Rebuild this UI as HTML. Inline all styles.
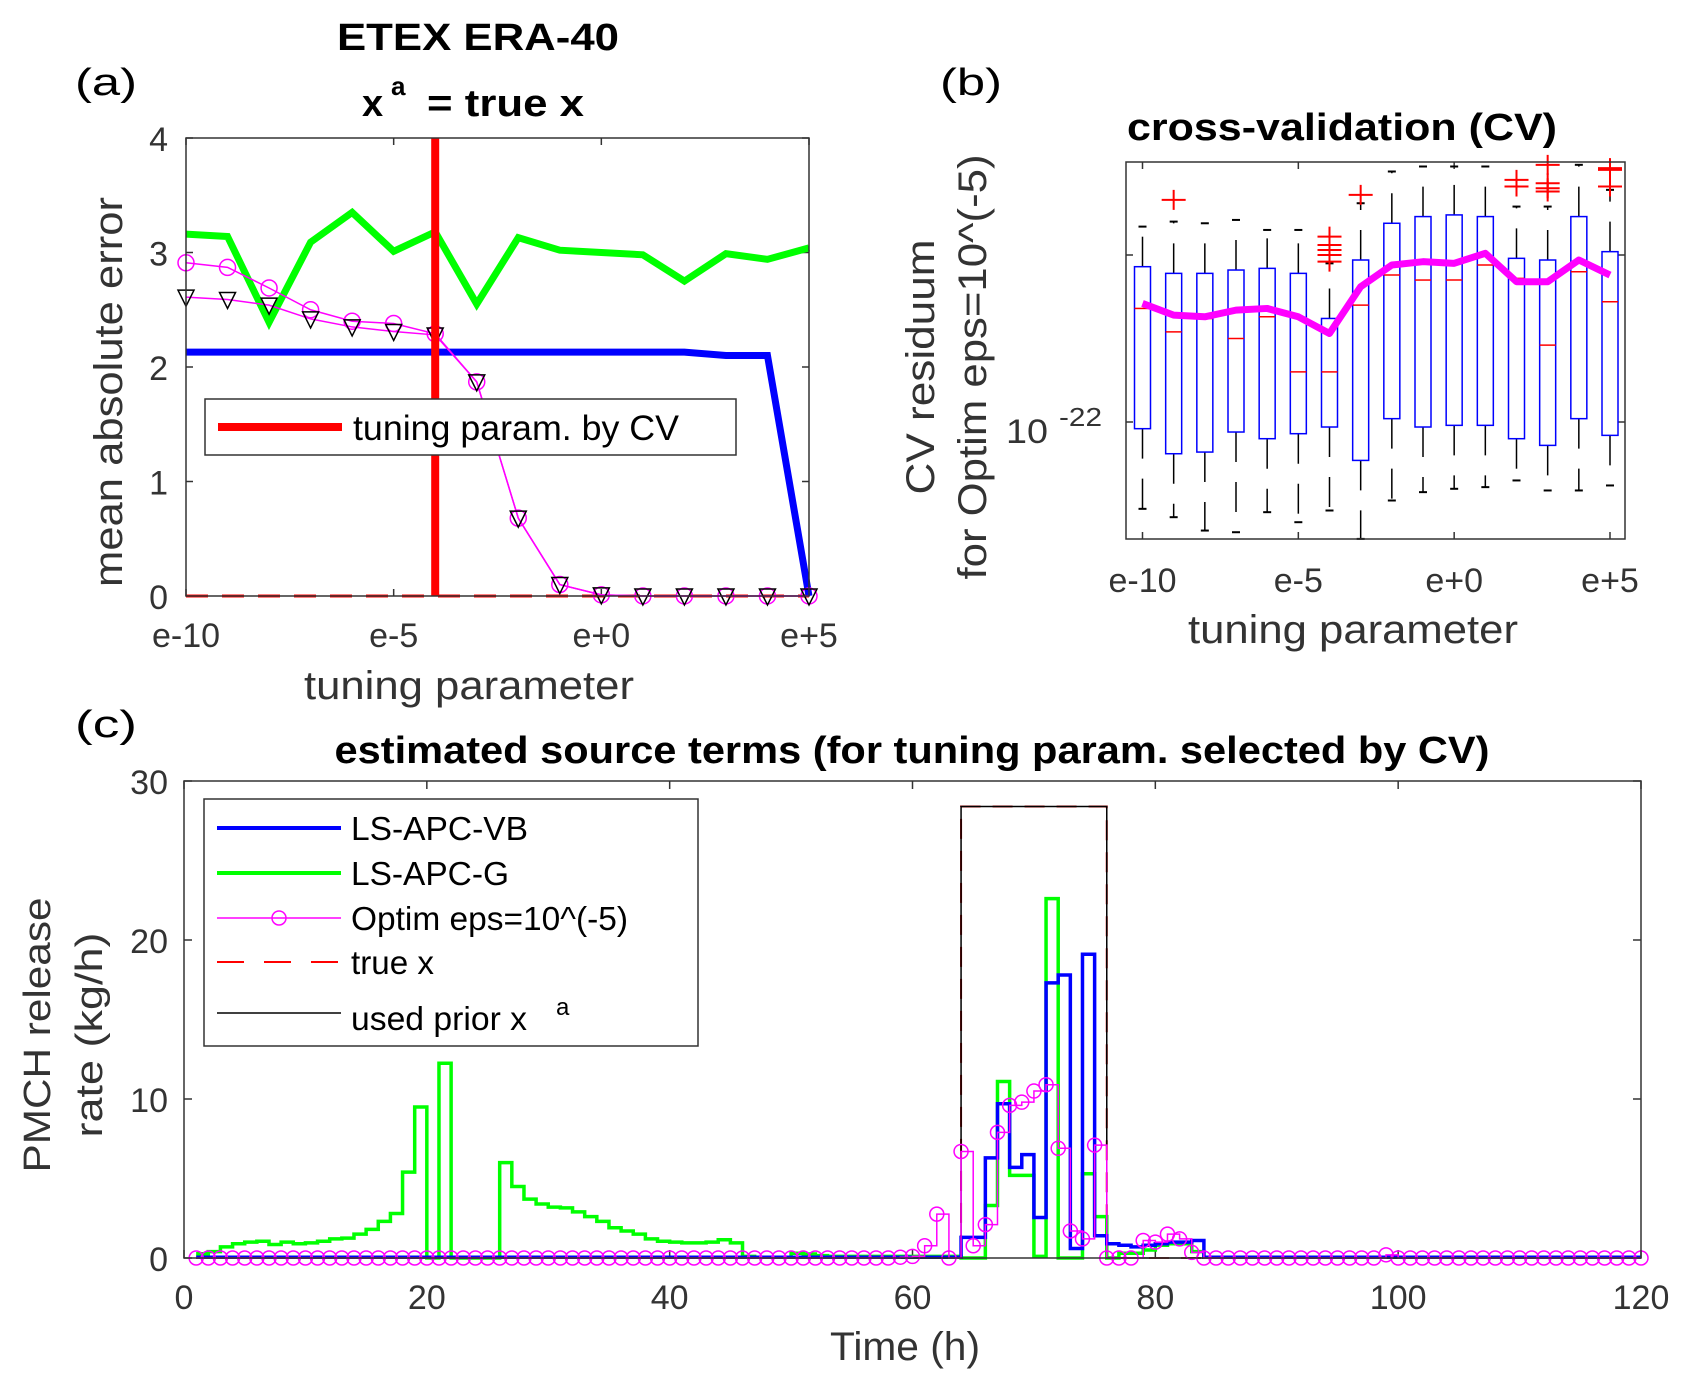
<!DOCTYPE html>
<html><head><meta charset="utf-8"><style>
body{margin:0;background:#fff}
svg{display:block}
text{font-family:"Liberation Sans",sans-serif}
</style></head><body>
<svg id="fig" width="1681" height="1387" viewBox="0 0 1681 1387" xmlns="http://www.w3.org/2000/svg">
<rect width="1681" height="1387" fill="#fff"/>
<g id="pa"></g>
<g id="pb"></g>
<g id="pc"></g>

<text x="75" y="95" font-size="38" fill="#000" textLength="62" lengthAdjust="spacingAndGlyphs">(a)</text>
<text x="940" y="95" font-size="38" fill="#000" textLength="62" lengthAdjust="spacingAndGlyphs">(b)</text>
<text x="75" y="737" font-size="38" fill="#000" textLength="62" lengthAdjust="spacingAndGlyphs">(c)</text>
<text x="478" y="50" font-size="38" font-weight="bold" text-anchor="middle" textLength="282" lengthAdjust="spacingAndGlyphs">ETEX ERA-40</text>
<text x="362" y="116" font-size="38" font-weight="bold">x</text>
<text x="391" y="95" font-size="26" font-weight="bold">a</text>
<text x="427" y="116" font-size="38" font-weight="bold" textLength="157" lengthAdjust="spacingAndGlyphs">= true x</text>
<text x="1342" y="140" font-size="38" font-weight="bold" text-anchor="middle" textLength="430" lengthAdjust="spacingAndGlyphs">cross-validation (CV)</text>
<text x="912" y="763" font-size="38" font-weight="bold" text-anchor="middle" textLength="1155" lengthAdjust="spacingAndGlyphs">estimated source terms (for tuning param. selected by CV)</text>
<text transform="translate(122,392) rotate(-90)" font-size="40" fill="#333" text-anchor="middle" textLength="390" lengthAdjust="spacingAndGlyphs">mean absolute error</text>
<text x="469" y="699" font-size="40" fill="#333" text-anchor="middle" textLength="330" lengthAdjust="spacingAndGlyphs">tuning parameter</text>
<text transform="translate(934,367) rotate(-90)" font-size="40" fill="#333" text-anchor="middle" textLength="255" lengthAdjust="spacingAndGlyphs">CV residuum</text>
<text transform="translate(986,367) rotate(-90)" font-size="40" fill="#333" text-anchor="middle" textLength="425" lengthAdjust="spacingAndGlyphs">for Optim eps=10^(-5)</text>
<text x="1353" y="643" font-size="40" fill="#333" text-anchor="middle" textLength="330" lengthAdjust="spacingAndGlyphs">tuning parameter</text>
<text x="1006" y="443" font-size="34" fill="#333" textLength="42" lengthAdjust="spacingAndGlyphs">10</text>
<text x="1059" y="426" font-size="26" fill="#333" textLength="43" lengthAdjust="spacingAndGlyphs">-22</text>
<text transform="translate(50,1035) rotate(-90)" font-size="38" fill="#333" text-anchor="middle" textLength="275" lengthAdjust="spacingAndGlyphs">PMCH release</text>
<text transform="translate(102,1035) rotate(-90)" font-size="38" fill="#333" text-anchor="middle" textLength="205" lengthAdjust="spacingAndGlyphs">rate (kg/h)</text>
<text x="905" y="1360" font-size="40" fill="#333" text-anchor="middle" textLength="150" lengthAdjust="spacingAndGlyphs">Time (h)</text>
</svg>
<script>
const NS="http://www.w3.org/2000/svg";
// ---------- panel (a) data ----------
const aCats=["e-10","e-9","e-8","e-7","e-6","e-5","e-4","e-3","e-2","e-1","e+0","e+1","e+2","e+3","e+4","e+5"];
const aTickIdx=[0,5,10,15];
const aTickLabels=["e-10","e-5","e+0","e+5"];
const aYTicks=[0,1,2,3,4];
const aGreen=[3.16,3.14,2.39,3.09,3.35,3.01,3.18,2.55,3.13,3.02,3.00,2.98,2.75,2.99,2.94,3.04];
const aBlue=[2.13,2.13,2.13,2.13,2.13,2.13,2.13,2.13,2.13,2.13,2.13,2.13,2.13,2.10,2.10,0];
const aCircle=[2.91,2.87,2.69,2.50,2.40,2.38,2.29,1.87,0.68,0.10,0.01,0,0,0,0,0];
const aTri=[2.61,2.59,2.54,2.42,2.35,2.31,2.28,1.87,0.68,0.10,0.01,0,0,0,0,0];
const aTrue=[0,0,0,0,0,0,0,0,0,0,0,0,0,0,0,0];
const aSelected=6;
// ---------- panel (b) data (log10 of CV residuum) ----------
const bQ1=[-22.04,-22.19,-22.18,-22.06,-22.10,-22.07,-22.03,-22.23,-21.98,-22.03,-22.02,-22.02,-22.10,-22.14,-21.98,-22.08];
const bMed=[-21.32,-21.46,-21.38,-21.50,-21.37,-21.70,-21.70,-21.30,-21.12,-21.15,-21.15,-21.06,-21.14,-21.54,-21.10,-21.28];
const bQ3=[-21.07,-21.11,-21.11,-21.09,-21.08,-21.11,-21.38,-21.03,-20.81,-20.77,-20.76,-20.77,-21.02,-21.03,-20.77,-20.98];
const bWlo=[-22.52,-22.57,-22.65,-22.66,-22.54,-22.60,-22.53,-22.70,-22.47,-22.42,-22.40,-22.39,-22.35,-22.41,-22.41,-22.38];
const bWhi=[-20.83,-20.80,-20.81,-20.79,-20.85,-20.85,-21.05,-20.69,-20.50,-20.47,-20.47,-20.47,-20.71,-20.71,-20.46,-20.61];
const bMean=[-21.29,-21.36,-21.37,-21.33,-21.32,-21.37,-21.47,-21.19,-21.06,-21.04,-21.05,-20.99,-21.16,-21.16,-21.03,-21.12];
const bOutIdx=[1,6,6,6,6,6,7,12,12,13,13,13,13,15,15,15];
const bOutVal=[-20.67,-20.89,-20.94,-20.97,-21.00,-21.04,-20.64,-20.55,-20.59,-20.46,-20.57,-20.60,-20.62,-20.48,-20.49,-20.59];
// ---------- panel (c) data (t = 1..120 h) ----------
const cXTicks=[0,20,40,60,80,100,120];
const cYTicks=[0,10,20,30];
const cGreen=[0.27,0.4,0.7,0.9,1.0,1.05,0.85,1.0,0.9,0.95,
1.05,1.2,1.25,1.5,1.8,2.3,2.8,5.4,9.5,0,
12.25,0,0,0,0,6.0,4.5,3.7,3.4,3.2,
3.15,2.9,2.6,2.3,1.9,1.7,1.5,1.2,1.05,1.0,
0.95,0.95,1.0,1.15,0.95,0.1,0.05,0.05,0.05,0.3,
0.25,0.15,0.1,0.1,0.1,0.1,0.1,0.1,0.1,0.1,
0.1,0.1,0.1,0,0,3.3,11.1,5.2,5.2,0.1,
22.6,0,0,5.3,2.6,0,0.3,0.3,0.5,0.8,
0.9,0.9,0.4,0.05,0.05,0.05,0.05,0.05,0.05,0.05,
0.05,0.05,0.05,0.05,0.05,0.05,0.05,0.05,0.05,0.05,
0.05,0.05,0.05,0.05,0.05,0.05,0.05,0.05,0.05,0.05,
0.05,0.05,0.05,0.05,0.05,0.05,0.05,0.05,0.05,0.05];
const cBlue=[0.05,0.05,0.05,0.05,0.05,0.05,0.05,0.05,0.05,0.05,
0.05,0.05,0.05,0.05,0.05,0.05,0.05,0.05,0.05,0.05,
0.05,0.05,0.05,0.05,0.05,0.05,0.05,0.05,0.05,0.05,
0.05,0.05,0.05,0.05,0.05,0.05,0.05,0.05,0.05,0.05,
0.05,0.05,0.05,0.05,0.05,0.05,0.05,0.05,0.05,0.05,
0.05,0.05,0.05,0.05,0.05,0.05,0.05,0.05,0.05,0.05,
0.05,0.05,0.05,1.3,1.3,6.3,9.7,5.7,6.5,2.55,
17.3,17.8,0.6,19.1,1.4,0.9,0.8,0.7,0.8,0.9,
1.0,1.0,1.1,0.05,0.05,0.05,0.05,0.05,0.05,0.05,
0.05,0.05,0.05,0.05,0.05,0.05,0.05,0.05,0.05,0.05,
0.05,0.05,0.05,0.05,0.05,0.05,0.05,0.05,0.05,0.05,
0.05,0.05,0.05,0.05,0.05,0.05,0.05,0.05,0.05,0.05];
const cOptim=[0,0,0,0,0,0,0,0,0,0,
0,0,0,0,0,0,0,0,0,0,
0,0,0,0,0,0,0,0,0,0,
0,0,0,0,0,0,0,0,0,0,
0,0,0,0,0,0,0,0,0,0,
0,0,0,0,0,0,0,0,0.05,0.1,
0.77,2.76,0,6.7,0.77,2.1,7.9,9.6,9.8,10.5,
10.9,6.9,1.7,1.2,7.1,0,0,0,1.1,1.0,
1.5,1.2,0.35,0,0,0,0,0,0,0,
0,0,0,0,0,0,0,0,0.2,0,
0,0,0,0,0,0,0,0,0,0,
0,0,0,0,0,0,0,0,0,0];
const cPrior=[0,0,0,0,0,0,0,0,0,0,
0,0,0,0,0,0,0,0,0,0,
0,0,0,0,0,0,0,0,0,0,
0,0,0,0,0,0,0,0,0,0,
0,0,0,0,0,0,0,0,0,0,
0,0,0,0,0,0,0,0,0,0,
0,0,0,28.4,28.4,28.4,28.4,28.4,28.4,28.4,
28.4,28.4,28.4,28.4,28.4,0,0,0,0,0,
0,0,0,0,0,0,0,0,0,0,
0,0,0,0,0,0,0,0,0,0,
0,0,0,0,0,0,0,0,0,0,
0,0,0,0,0,0,0,0,0,0];

function mk(parent,tag,attrs){const e=document.createElementNS(NS,tag);for(const k in attrs)e.setAttribute(k,attrs[k]);parent.appendChild(e);return e;}
const TICKFS=34;

// ========== Panel A ==========
(function(){
const g=document.getElementById('pa');
const L=186,R=809,T=138,B=596;
const x=i=>L+(R-L)*i/(aCats.length-1);
const y=v=>B-(B-T)*v/4;
aTickIdx.forEach((ti,k)=>{
  let t=mk(g,'line',{x1:x(ti),x2:x(ti),y1:B,y2:B-7,stroke:'#333','stroke-width':1.5});
  
  t=mk(g,'line',{x1:x(ti),x2:x(ti),y1:T,y2:T+7,stroke:'#333','stroke-width':1.5});
  
  const lb=mk(g,'text',{x:x(ti),y:647,'font-size':TICKFS,fill:'#333','text-anchor':'middle'});lb.textContent=aTickLabels[k];
  
});
aYTicks.forEach(v=>{
  let t=mk(g,'line',{x1:L,x2:L+7,y1:y(v),y2:y(v),stroke:'#333','stroke-width':1.5});
  
  t=mk(g,'line',{x1:R,x2:R-7,y1:y(v),y2:y(v),stroke:'#333','stroke-width':1.5});
  
  const lb=mk(g,'text',{x:168,y:y(v)+13,'font-size':TICKFS,fill:'#333','text-anchor':'end'});lb.textContent=String(v);
  
});
const pts=arr=>arr.map((v,i)=>x(i)+','+y(v)).join(' ');
let l=mk(g,'polyline',{points:pts(aTrue),fill:'none',stroke:'#f00','stroke-width':3,'stroke-dasharray':'22 14'});

l=mk(g,'polyline',{points:pts(aGreen),fill:'none',stroke:'#0f0','stroke-width':7,'stroke-linejoin':'miter'});

l=mk(g,'polyline',{points:pts(aBlue),fill:'none',stroke:'#00f','stroke-width':7});

l=mk(g,'polyline',{points:pts(aCircle),fill:'none',stroke:'#f0f','stroke-width':1.5});

l=mk(g,'polyline',{points:pts(aTri),fill:'none',stroke:'#f0f','stroke-width':1.5});

aCircle.forEach((v,i)=>{const c=mk(g,'circle',{cx:x(i),cy:y(v),r:8,fill:'none',stroke:'#f0f','stroke-width':1.5});
  });
aTri.forEach((v,i)=>{const cx=x(i),cy=y(v);
  const p=mk(g,'polygon',{points:`${cx-8},${cy-7} ${cx+8},${cy-7} ${cx},${cy+9}`,fill:'none',stroke:'#000','stroke-width':1.5});
  });
const sel=mk(g,'line',{x1:x(aSelected),x2:x(aSelected),y1:T,y2:B,stroke:'#f00','stroke-width':8});

const fr=mk(g,'rect',{x:L,y:T,width:R-L,height:B-T,fill:'none',stroke:'#333','stroke-width':1.5});

const lg=mk(g,'g',{});

mk(lg,'rect',{x:205,y:399,width:531,height:56,fill:'#fff',stroke:'#333','stroke-width':1.5});
mk(lg,'line',{x1:218,x2:342,y1:427,y2:427,stroke:'#f00','stroke-width':8});
const lt=mk(lg,'text',{x:353,y:440,'font-size':35,fill:'#000',textLength:326,lengthAdjust:'spacingAndGlyphs'});lt.textContent='tuning param. by CV';

})();

// ========== Panel B ==========
(function(){
const g=document.getElementById('pb');
const L=1126,R=1625,T=162,B=539;
const x=i=>1142.5+(1610-1142.5)*i/15;
const y=e=>422-(e+22)*167;
const ticksI=[0,5,10,15];const tl=["e-10","e-5","e+0","e+5"];
ticksI.forEach((ti,k)=>{
  let t=mk(g,'line',{x1:x(ti),x2:x(ti),y1:B,y2:B-7,stroke:'#333','stroke-width':1.5});
  
  t=mk(g,'line',{x1:x(ti),x2:x(ti),y1:T,y2:T+7,stroke:'#333','stroke-width':1.5});
  
  const lb=mk(g,'text',{x:x(ti),y:592,'font-size':TICKFS,fill:'#333','text-anchor':'middle'});lb.textContent=tl[k];
  
});
[-22,-21].forEach(e=>{
  let t=mk(g,'line',{x1:L,x2:L+7,y1:y(e),y2:y(e),stroke:'#333','stroke-width':1.5});
  
  t=mk(g,'line',{x1:R,x2:R-7,y1:y(e),y2:y(e),stroke:'#333','stroke-width':1.5});
  
});
const hw=8;
bQ1.forEach((q1,i)=>{
  const cx=x(i);
  const bx=mk(g,'g',{});
  
  const wt=Math.max(y(bWhi[i]),T), wb=Math.min(y(bWlo[i]),B);
  mk(bx,'line',{x1:cx,x2:cx,y1:y(bQ3[i]),y2:wt,stroke:'#000','stroke-width':1.5,'stroke-dasharray':'30 20'});
  mk(bx,'line',{x1:cx,x2:cx,y1:y(q1),y2:wb,stroke:'#000','stroke-width':1.5,'stroke-dasharray':'30 20'});
  mk(bx,'line',{x1:cx-4,x2:cx+4,y1:wt,y2:wt,stroke:'#000','stroke-width':2});
  mk(bx,'line',{x1:cx-4,x2:cx+4,y1:wb,y2:wb,stroke:'#000','stroke-width':2});
  mk(bx,'rect',{x:cx-hw,y:y(bQ3[i]),width:2*hw,height:y(q1)-y(bQ3[i]),fill:'none',stroke:'#00f','stroke-width':1.5});
  mk(bx,'line',{x1:cx-hw,x2:cx+hw,y1:y(bMed[i]),y2:y(bMed[i]),stroke:'#f00','stroke-width':1.5});
});
bOutIdx.forEach((i,k)=>{
  const cx=x(i),cy=y(bOutVal[k]);
  const p=mk(g,'path',{d:`M${cx-12},${cy}H${cx+12}M${cx},${cy-10}V${cy+10}`,stroke:'#f00','stroke-width':2,fill:'none'});
  
});
const ml=mk(g,'polyline',{points:bMean.map((v,i)=>x(i)+','+y(v)).join(' '),fill:'none',stroke:'#f0f','stroke-width':7,'stroke-linejoin':'round'});

const fr=mk(g,'rect',{x:L,y:T,width:R-L,height:B-T,fill:'none',stroke:'#333','stroke-width':1.5});

})();

// ========== Panel C ==========
(function(){
const g=document.getElementById('pc');
const L=184,R=1641,T=781,B=1258;
const x=t=>L+(R-L)*t/120;
const y=v=>B-(B-T)*v/30;
cXTicks.forEach(v=>{
  let t=mk(g,'line',{x1:x(v),x2:x(v),y1:B,y2:B-8,stroke:'#333','stroke-width':1.5});
  
  t=mk(g,'line',{x1:x(v),x2:x(v),y1:T,y2:T+8,stroke:'#333','stroke-width':1.5});
  
  const lb=mk(g,'text',{x:x(v),y:1309,'font-size':TICKFS,fill:'#333','text-anchor':'middle'});lb.textContent=String(v);
  
});
cYTicks.forEach(v=>{
  let t=mk(g,'line',{x1:L,x2:L+8,y1:y(v),y2:y(v),stroke:'#333','stroke-width':1.5});
  
  t=mk(g,'line',{x1:R,x2:R-8,y1:y(v),y2:y(v),stroke:'#333','stroke-width':1.5});
  
  const lb=mk(g,'text',{x:168,y:y(v)+13,'font-size':TICKFS,fill:'#333','text-anchor':'end'});lb.textContent=String(v);
  
});
const stairs=arr=>{let d='';arr.forEach((v,i)=>{const t=i+1;d+=(i===0?'M':'L')+x(t)+','+y(v);if(i<arr.length-1)d+='H'+x(t+1);});return d;};
let p=mk(g,'path',{d:stairs(cPrior),fill:'none',stroke:'#c00','stroke-width':2,'stroke-dasharray':'20 12'});

p=mk(g,'path',{d:stairs(cGreen),fill:'none',stroke:'#0f0','stroke-width':3.5});

p=mk(g,'path',{d:stairs(cBlue),fill:'none',stroke:'#00f','stroke-width':3.5});

p=mk(g,'path',{d:stairs(cPrior),fill:'none',stroke:'#000','stroke-width':1.5});

p=mk(g,'path',{d:stairs(cOptim),fill:'none',stroke:'#f0f','stroke-width':1.5});

cOptim.forEach((v,i)=>{const c=mk(g,'circle',{cx:x(i+1),cy:y(v),r:7,fill:'none',stroke:'#f0f','stroke-width':1.5});
  });
const fr=mk(g,'rect',{x:L,y:T,width:R-L,height:B-T,fill:'none',stroke:'#333','stroke-width':1.5});

const lg=mk(g,'g',{});

mk(lg,'rect',{x:204,y:799,width:494,height:247,fill:'#fff',stroke:'#333','stroke-width':1.5});
const ent=[['LS-APC-VB',828,'#00f',4,null,177],['LS-APC-G',873,'#0f0',4,null,158],['Optim eps=10^(-5)',918,'#f0f',1.5,'o',277],['true x',962,'#f00',2,'d',83],['used prior x',1013,'#000',1.5,null,176]];
ent.forEach(e=>{
  const gl=mk(lg,'g',{});
  
  const a={x1:217,x2:341,y1:e[1],y2:e[1],stroke:e[2],'stroke-width':e[3]};
  if(e[4]==='d')a['stroke-dasharray']='27 20';
  mk(gl,'line',a);
  if(e[4]==='o')mk(gl,'circle',{cx:279,cy:e[1],r:7,fill:'none',stroke:'#f0f','stroke-width':1.5});
  const t=mk(gl,'text',{x:351,y:e[1]+(e[0]==='used prior x'?17:12),'font-size':33,fill:'#000',textLength:e[5],lengthAdjust:'spacingAndGlyphs'});t.textContent=e[0];
});
const sup=mk(lg,'text',{x:556,y:1015,'font-size':24,fill:'#000'});sup.textContent='a';
})();
</script>
</body></html>
